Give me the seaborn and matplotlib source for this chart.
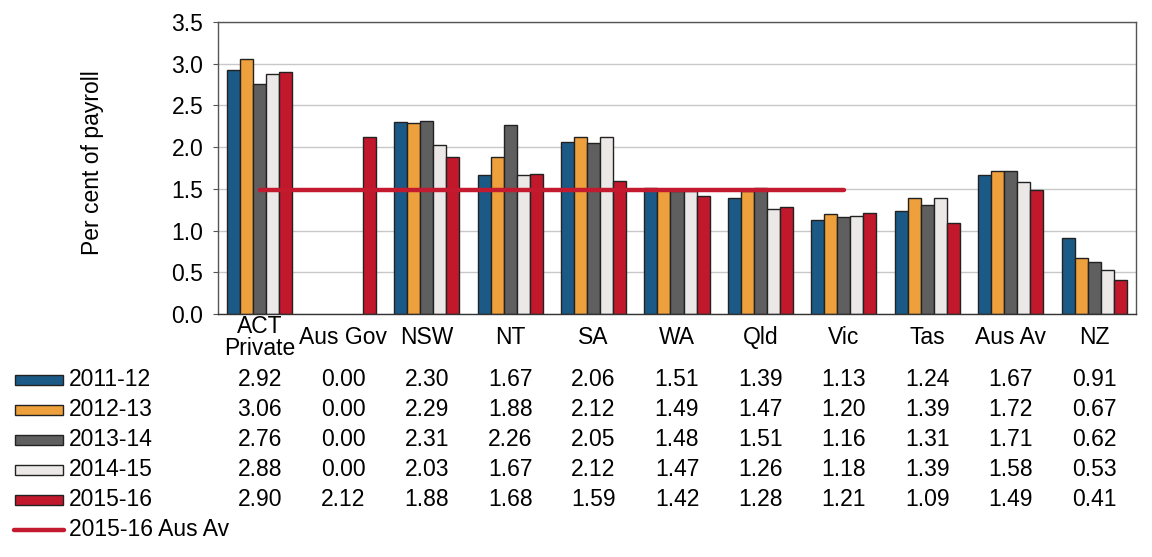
import numpy as np
import pandas as pd
import seaborn as sns
import matplotlib
matplotlib.use("Agg")
import matplotlib.pyplot as plt
from matplotlib.patches import Rectangle
from matplotlib.lines import Line2D
import matplotlib.transforms as mtransforms

# ---- data ----
categories = ['ACT\nPrivate', 'Aus Gov', 'NSW', 'NT', 'SA', 'WA', 'Qld', 'Vic', 'Tas', 'Aus Av', 'NZ']
years = ['2011-12', '2012-13', '2013-14', '2014-15', '2015-16']
v2011_12 = [2.92, 0.00, 2.30, 1.67, 2.06, 1.51, 1.39, 1.13, 1.24, 1.67, 0.91]
v2012_13 = [3.06, 0.00, 2.29, 1.88, 2.12, 1.49, 1.47, 1.20, 1.39, 1.72, 0.67]
v2013_14 = [2.76, 0.00, 2.31, 2.26, 2.05, 1.48, 1.51, 1.16, 1.31, 1.71, 0.62]
v2014_15 = [2.88, 0.00, 2.03, 1.67, 2.12, 1.47, 1.26, 1.18, 1.39, 1.58, 0.53]
v2015_16 = [2.90, 2.12, 1.88, 1.68, 1.59, 1.42, 1.28, 1.21, 1.09, 1.49, 0.41]
series = [v2011_12, v2012_13, v2013_14, v2014_15, v2015_16]
colours = ['#1b5a86', '#eda03c', '#5f5f5f', '#ece8e8', '#c2182b']
line_label = '2015-16 Aus Av'
line_from, line_to = 'ACT\nPrivate', 'Vic'
aus_av = v2015_16[categories.index('Aus Av')]

# long format for seaborn
rows = []
for yr, vals in zip(years, series):
    for c, v in zip(categories, vals):
        rows.append({'state': c, 'year': yr, 'value': v})
df = pd.DataFrame(rows)

sns.set_theme(style='white')
plt.rcParams['font.family'] = ['Liberation Sans', 'DejaVu Sans']
plt.rcParams['text.color'] = 'black'
plt.rcParams['xtick.color'] = 'black'
plt.rcParams['ytick.color'] = 'black'
plt.rcParams['axes.labelcolor'] = 'black'
fs = 16.5

fig = plt.figure(figsize=(11.52, 5.57), dpi=100)
W, H = 1152, 557
ax = fig.add_axes([218 / W, 1 - 314 / H, (1136 - 218) / W, (314 - 22) / H])

sns.barplot(data=df, x='state', y='value', hue='year', order=categories,
            hue_order=years, palette=colours, width=0.78, edgecolor='#222222',
            linewidth=1.0, saturation=1, legend=False, ax=ax, zorder=2)
# hide the empty (zero) bars
for p in ax.patches:
    if p.get_height() == 0:
        p.set_visible(False)

# average line
x0, x1 = categories.index(line_from), categories.index(line_to)
ax.plot([x0, x1], [aus_av, aus_av], color='#c41a30', lw=3.2,
        solid_capstyle='round', zorder=5)

ax.set_ylim(0, 3.5)
ax.set_xlim(-0.5, len(categories) - 0.5)
ax.set_yticks(np.arange(0, 3.51, 0.5))
ax.set_yticklabels([f'{t:.1f}' for t in np.arange(0, 3.51, 0.5)], fontsize=fs)
ax.yaxis.grid(True, color='#c8c8c8', lw=1.0, zorder=0)
ax.set_axisbelow(True)
for s in ax.spines.values():
    s.set_color('#555555')
    s.set_linewidth(1.0)
ax.spines['bottom'].set_color('#333333')
ax.tick_params(axis='x', length=0, pad=17)
ax.tick_params(axis='y', length=3.5, width=0.8, color='#555555', left=True,
               direction='out', pad=7)
ax.set_xlabel('')
ax.set_xticks(range(len(categories)))
ax.set_xticklabels(categories, fontsize=fs, linespacing=0.95)
for lab in ax.get_xticklabels():
    lab.set_va('center')
ax.set_ylabel('Per cent of payroll', fontsize=fs)
ax.yaxis.set_label_coords((104 - 218) / (1136 - 218), 0.52)

# data table below the chart
trans = mtransforms.blended_transform_factory(ax.transData, fig.transFigure)
row_y = [380, 410, 440, 470, 500]
for yr, vals, col, yy in zip(years, series, colours, row_y):
    fy = 1 - yy / H
    fig.patches.append(Rectangle((15 / W, fy - 5 / H), 48 / W, 10 / H,
                                 transform=fig.transFigure, facecolor=col,
                                 edgecolor='#222222', lw=1.0))
    fig.text(69 / W, fy, yr, fontsize=fs, va='center', ha='left')
    for i, v in enumerate(vals):
        ax.text(i, fy, f'{v:.2f}', transform=trans, fontsize=fs,
                ha='center', va='center', clip_on=False)

fy = 1 - 530 / H
fig.lines.append(Line2D([14 / W, 64 / W], [fy, fy], transform=fig.transFigure,
                        color='#c41a30', lw=3.2, solid_capstyle='round'))
fig.text(69 / W, fy, line_label, fontsize=fs, va='center', ha='left')

fig.savefig('out.png', dpi=100)
